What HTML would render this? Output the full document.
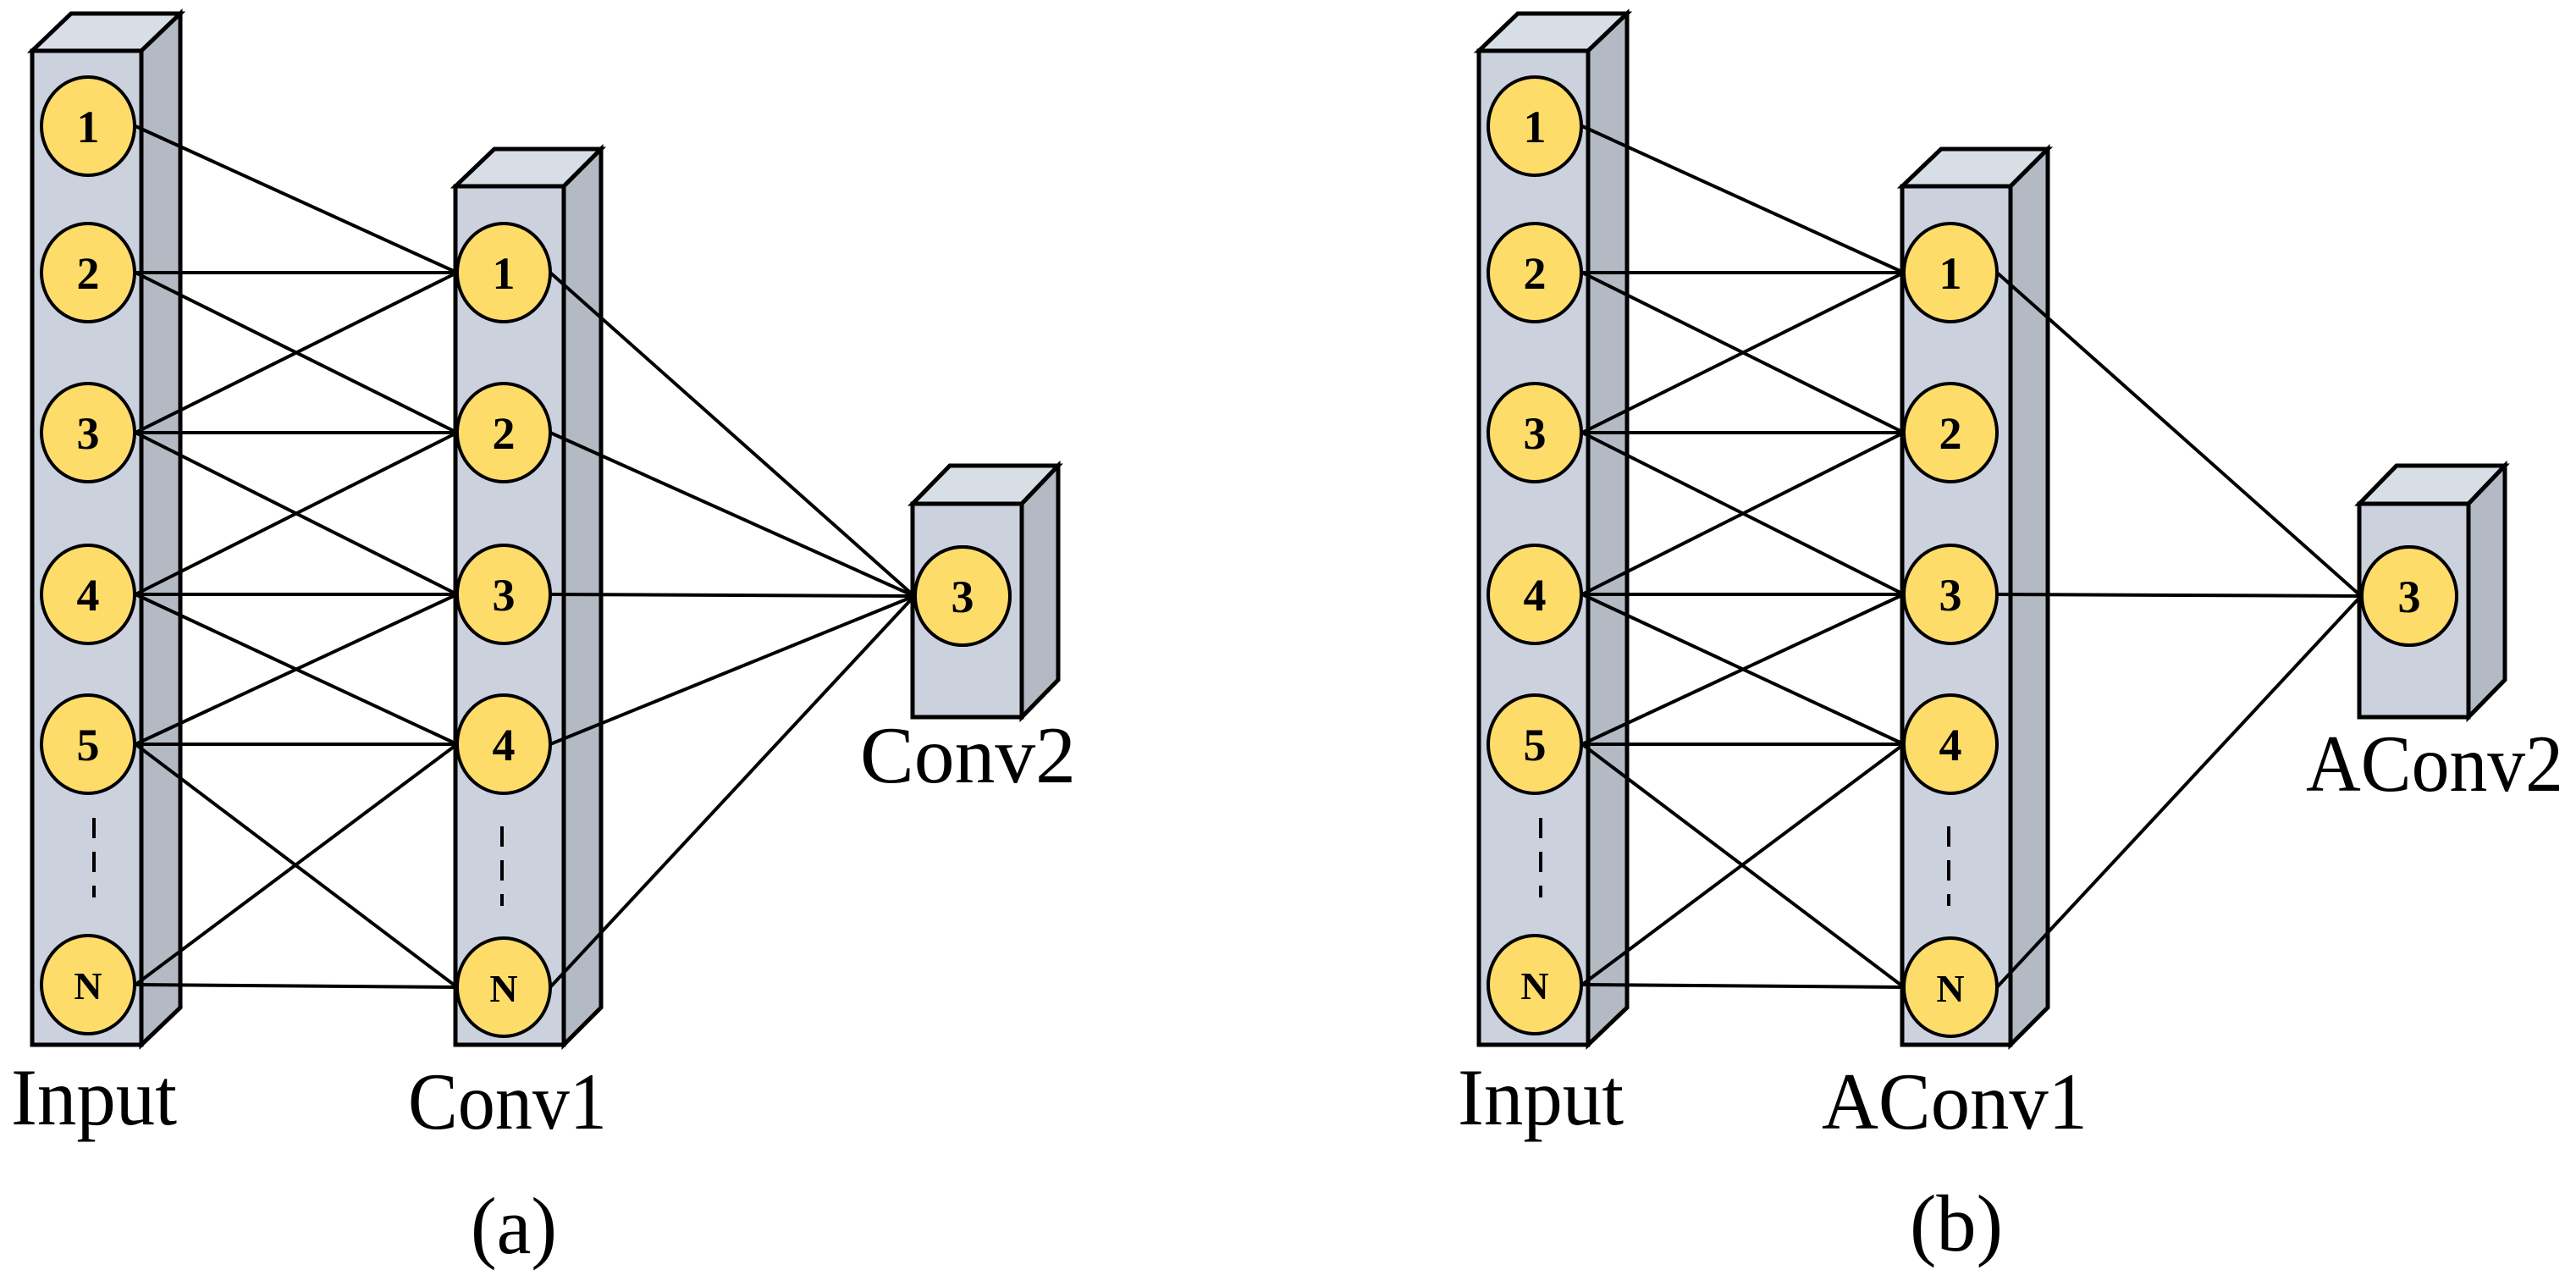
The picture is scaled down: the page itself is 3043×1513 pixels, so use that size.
<!DOCTYPE html>
<html><head><meta charset="utf-8"><style>
html,body{margin:0;padding:0;background:#fff;}
svg{display:block;}
.f{fill:#CBD1DD;stroke:#000;stroke-width:5;stroke-linejoin:miter}
.s{fill:#B4BAC4;stroke:#000;stroke-width:5}
.t{fill:#D8DEE6;stroke:#000;stroke-width:5}
.c{fill:#FDDC6A;stroke:#000;stroke-width:4}
.l{stroke:#000;stroke-width:4;fill:none}
.n{font-family:"Liberation Serif",serif;font-weight:bold;font-size:54px;text-anchor:middle}
.lb{font-family:"Liberation Serif",serif;font-size:95px;}
</style></head><body>
<svg width="3043" height="1513" viewBox="0 0 3043 1513" xmlns="http://www.w3.org/2000/svg">
<defs>
<g id="panelBase">
  <!-- Input column -->
  <polygon class="t" points="38,60 84,16 213,16 167,60"/>
  <polygon class="s" points="167,60 213,16 213,1190 167,1234"/>
  <rect class="f" x="38" y="60" width="129" height="1174"/>
  <!-- Conv1 column -->
  <polygon class="t" points="538,220 584,176 710,176 666,220"/>
  <polygon class="s" points="666,220 710,176 710,1190 666,1234"/>
  <rect class="f" x="538" y="220" width="128" height="1014"/>
  <!-- Conv2 box -->
  <polygon class="t" points="1078,595 1122,550 1250,550 1207,595"/>
  <polygon class="s" points="1207,595 1250,550 1250,803 1207,847"/>
  <rect class="f" x="1078" y="595" width="129" height="252"/>
  <!-- input -> conv1 lines -->
  <g class="l">
    <line x1="160" y1="149" x2="540" y2="322"/>
    <line x1="160" y1="322" x2="540" y2="322"/>
    <line x1="160" y1="322" x2="540" y2="511"/>
    <line x1="160" y1="511" x2="540" y2="322"/>
    <line x1="160" y1="511" x2="540" y2="511"/>
    <line x1="160" y1="511" x2="540" y2="702"/>
    <line x1="160" y1="702" x2="540" y2="511"/>
    <line x1="160" y1="702" x2="540" y2="702"/>
    <line x1="160" y1="702" x2="540" y2="879"/>
    <line x1="160" y1="879" x2="540" y2="702"/>
    <line x1="160" y1="879" x2="540" y2="879"/>
    <line x1="160" y1="879" x2="540" y2="1166"/>
    <line x1="160" y1="1163" x2="540" y2="879"/>
    <line x1="160" y1="1163" x2="540" y2="1166"/>
  </g>
  <!-- input circles -->
  <g>
    <ellipse class="c" cx="104" cy="149" rx="55" ry="58"/>
    <ellipse class="c" cx="104" cy="322" rx="55" ry="58"/>
    <ellipse class="c" cx="104" cy="511" rx="55" ry="58"/>
    <ellipse class="c" cx="104" cy="702" rx="55" ry="58"/>
    <ellipse class="c" cx="104" cy="879" rx="55" ry="58"/>
    <ellipse class="c" cx="104" cy="1163" rx="55" ry="58"/>
  </g>
  <text class="n" x="104" y="168">1</text>
  <text class="n" x="104" y="341">2</text>
  <text class="n" x="104" y="530">3</text>
  <text class="n" x="104" y="721">4</text>
  <text class="n" x="104" y="898">5</text>
  <text class="n" x="104" y="1180" style="font-size:46px">N</text>
  <line x1="111" y1="966" x2="111" y2="1060" stroke="#000" stroke-width="4" stroke-dasharray="24 16"/>
  <!-- conv1 circles -->
  <ellipse class="c" cx="595" cy="322" rx="55" ry="58"/>
  <ellipse class="c" cx="595" cy="511" rx="55" ry="58"/>
  <ellipse class="c" cx="595" cy="702" rx="55" ry="58"/>
  <ellipse class="c" cx="595" cy="879" rx="55" ry="58"/>
  <ellipse class="c" cx="595" cy="1166" rx="55" ry="58"/>
  <text class="n" x="595" y="341">1</text>
  <text class="n" x="595" y="530">2</text>
  <text class="n" x="595" y="721">3</text>
  <text class="n" x="595" y="898">4</text>
  <text class="n" x="595" y="1183" style="font-size:46px">N</text>
  <line x1="593" y1="976" x2="593" y2="1070" stroke="#000" stroke-width="4" stroke-dasharray="24 16"/>
  <!-- conv2 circle -->
  <ellipse class="c" cx="1137" cy="704" rx="56" ry="58"/>
  <text class="n" x="1137" y="723">3</text>
  <text class="lb" x="13" y="1328" textLength="196" lengthAdjust="spacingAndGlyphs">Input</text>
</g>
</defs>

<!-- Panel (a) -->
<use href="#panelBase"/>
<g class="l">
  <line x1="650" y1="322" x2="1080" y2="704"/>
  <line x1="650" y1="511" x2="1080" y2="704"/>
  <line x1="650" y1="702" x2="1080" y2="704"/>
  <line x1="650" y1="879" x2="1080" y2="704"/>
  <line x1="650" y1="1166" x2="1080" y2="704"/>
</g>
<ellipse class="c" cx="1137" cy="704" rx="56" ry="58"/>
<text class="n" x="1137" y="723">3</text>
<text class="lb" x="482" y="1333" textLength="235" lengthAdjust="spacingAndGlyphs">Conv1</text>
<text class="lb" x="1016" y="924" textLength="255" lengthAdjust="spacingAndGlyphs">Conv2</text>
<text class="lb" x="556" y="1480" textLength="102" lengthAdjust="spacingAndGlyphs">(a)</text>

<!-- Panel (b) -->
<g transform="translate(1709,0)">
  <use href="#panelBase"/>
  <g class="l">
    <line x1="650" y1="322" x2="1080" y2="704"/>
    <line x1="650" y1="702" x2="1080" y2="704"/>
    <line x1="650" y1="1166" x2="1080" y2="704"/>
  </g>
  <ellipse class="c" cx="1137" cy="704" rx="56" ry="58"/>
  <text class="n" x="1137" y="723">3</text>
  <text class="lb" x="443" y="1333" textLength="314" lengthAdjust="spacingAndGlyphs">AConv1</text>
  <text class="lb" x="1015" y="934" textLength="304" lengthAdjust="spacingAndGlyphs">AConv2</text>
  <text class="lb" x="547" y="1477" textLength="110" lengthAdjust="spacingAndGlyphs">(b)</text>
</g>
</svg>
</body></html>
